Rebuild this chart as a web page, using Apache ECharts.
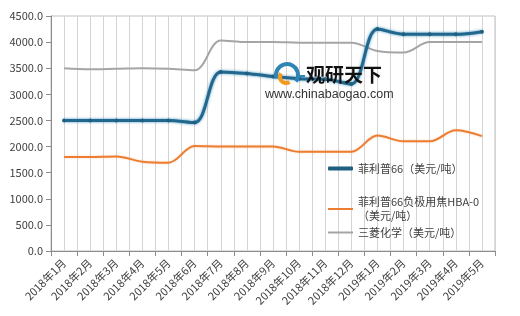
<!DOCTYPE html>
<html><head><meta charset="utf-8">
<script src="https://cdn.jsdelivr.net/npm/echarts@6/dist/echarts.min.js"></script>
<style>html,body{margin:0;padding:0;background:#fff}#c{width:520px;height:316px}</style>
</head><body><div id="c"></div>
<script>
var categories = ['2018年1月','2018年2月','2018年3月','2018年4月','2018年5月','2018年6月','2018年7月','2018年8月','2018年9月','2018年10月','2018年11月','2018年12月','2019年1月','2019年2月','2019年3月','2019年4月','2019年5月'];
var phillips66 = [2500,2500,2500,2500,2500,2460,3430,3400,3340,3300,3290,3200,4250,4150,4150,4150,4200];
var hba0 = [1800,1800,1810,1710,1690,2010,2000,2000,2000,1900,1900,1900,2210,2100,2100,2310,2200];
var mitsubishi = [3500,3480,3490,3500,3490,3460,4030,4000,4000,3990,3990,3990,3830,3800,4000,4000,4000];
var seriesNames = ['菲利普66（美元/吨）','菲利普66负极用焦HBA-0\n（美元/吨）','三菱化学（美元/吨）'];
var yTicks = {min:0, max:4500, interval:500};

var font = '"Microsoft YaHei","Noto Sans CJK SC",sans-serif';
var halfCats = [];
categories.forEach(function(c){ halfCats.push(c+'a'); halfCats.push(c+'b'); });

var chart = echarts.init(document.getElementById('c'), null, {renderer:'canvas'});
chart.setOption({
  animation:false,
  grid:{left:51, right:25, top:16, bottom:65, show:true, borderColor:'#bfbfbf', borderWidth:1},
  xAxis:[{
    type:'category', data:categories, boundaryGap:true,
    axisLine:{lineStyle:{color:'#8c8c8c'}},
    axisTick:{show:true, length:5, interval:0, lineStyle:{color:'#8c8c8c'}},
    axisLabel:{rotate:45, fontSize:11, color:'#404040', fontFamily:font, margin:10, interval:0},
    splitLine:{show:true, interval:0, lineStyle:{color:'#d4d4d4', width:1}}
  },{
    type:'category', data:halfCats, boundaryGap:true, position:'bottom',
    axisLine:{show:false}, axisTick:{show:false, interval:0},
    axisLabel:{show:true, interval:0, formatter:function(){return '';}},
    splitLine:{show:true, interval:0, lineStyle:{color:'#d4d4d4', width:1}}
  }],
  yAxis:{
    type:'value', min:yTicks.min, max:yTicks.max, interval:yTicks.interval,
    axisLine:{show:true, lineStyle:{color:'#8c8c8c'}},
    axisTick:{show:true, length:5, lineStyle:{color:'#8c8c8c'}},
    axisLabel:{fontSize:11, color:'#404040', fontFamily:font, margin:8, formatter:function(v){return v.toFixed(1);}},
    splitLine:{show:false}
  },
  legend:[
    {data:[seriesNames[0]], orient:'vertical', left:328, top:163, padding:0, itemWidth:25, itemHeight:4, icon:'roundRect',
     textStyle:{fontSize:11, color:'#404040', fontFamily:font}, itemGap:0},
    {data:[seriesNames[1]], orient:'vertical', left:328, top:195, padding:0, itemWidth:25, itemHeight:2, icon:'rect',
     textStyle:{fontSize:11, color:'#404040', fontFamily:font, lineHeight:14}, itemGap:0},
    {data:[seriesNames[2]], orient:'vertical', left:328, top:227, padding:0, itemWidth:25, itemHeight:2, icon:'rect',
     textStyle:{fontSize:11, color:'#404040', fontFamily:font}, itemGap:0}
  ],
  series:[
    {name:seriesNames[2], type:'line', data:mitsubishi, smooth:0.35, symbol:'none', color:'#a5a5a5',
     lineStyle:{width:2, color:'#a5a5a5'}, z:2},
    {name:seriesNames[1], type:'line', data:hba0, smooth:0.35, symbol:'none', color:'#ed7d31',
     lineStyle:{width:2, color:'#ed7d31', shadowColor:'rgba(237,125,49,0.35)', shadowBlur:2}, z:3},
    {name:seriesNames[0], type:'line', data:phillips66, smooth:0.35, symbol:'circle', symbolSize:4, color:'#1f5f82',
     itemStyle:{color:'#1f5f82'},
     lineStyle:{width:3, color:'#22688e', shadowColor:'rgba(60,140,185,0.9)', shadowBlur:3}, z:4}
  ],
  graphic:[
    {type:'arc', shape:{cx:287, cy:75, r:11, startAngle:Math.PI*0.9, endAngle:Math.PI*2.2}, style:{stroke:'#2f86b5', lineWidth:4, fill:null}, z:10},
    {type:'arc', shape:{cx:286, cy:77, r:6, startAngle:Math.PI*0.3, endAngle:Math.PI*1.2}, style:{stroke:'#f39a1e', lineWidth:4, fill:null}, z:10},
    {type:'rect', shape:{x:298, y:75, width:7, height:2}, style:{fill:'#2f86b5'}, z:10},
    {type:'text', left:306, top:65, style:{text:'观研天下', fontSize:19, fontWeight:'bold', fill:'#111', fontFamily:font}, z:10},
    {type:'text', left:265, top:88, style:{text:'www.chinabaogao.com', fontSize:12.5, fill:'#333', fontFamily:'"Liberation Sans",Arial,sans-serif'}, z:10}
  ]
});
</script></body></html>
